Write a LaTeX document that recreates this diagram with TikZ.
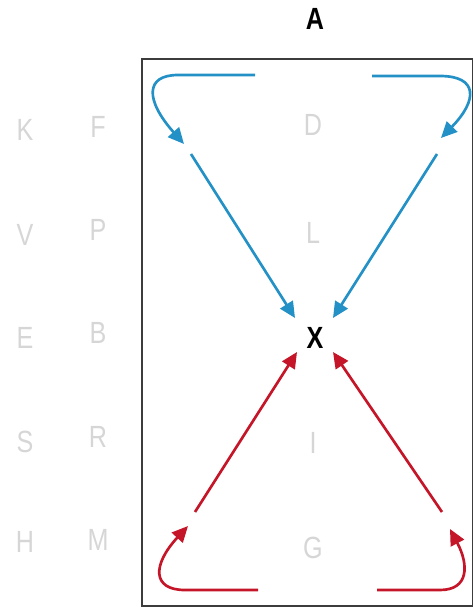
\documentclass[tikz,border=0pt]{standalone}
\usepackage{fontspec}
\setmainfont{Liberation Sans}
\newfontfamily\narrowsf[FakeStretch=0.82]{Liberation Sans}
\usepackage{xcolor}
\usepackage{tikz}
\usetikzlibrary{arrows.meta}
\usetikzlibrary{positioning}

\definecolor{flowblue}{RGB}{35,145,198}
\definecolor{flowred}{RGB}{196,22,40}
\definecolor{faintgray}{RGB}{214,214,214}

\tikzset{
  faint/.style={text=faintgray,inner sep=0pt,font=\narrowsf\fontsize{23pt}{23pt}\selectfont},
  strong/.style={text=black,inner sep=0pt,font=\narrowsf\bfseries\fontsize{23pt}{23pt}\selectfont},
  bluearr/.style={draw=flowblue,line width=2pt,-{Triangle[length=12pt,width=11pt]}},
  redarr/.style={draw=flowred,line width=2pt,-{Triangle[length=12pt,width=11pt]}}
}

\begin{document}
\begin{tikzpicture}[x=0.75pt,y=0.75pt,yscale=-1,xscale=1]
  \useasboundingbox (0,0) rectangle (474,611);

  %Shape: Rectangle [id:frame]
  \draw [draw={rgb, 255:red, 60; green, 60; blue, 60 }, line width=1.3pt] (142,59) rectangle (472.5,606);

  % Text Node
  \node [strong] (title) at (315,19) {A};
  % Text Node
  \node [strong] (centre) at (315,338) {X};

  % outer letters
  \node [faint] (lblK) at (25,130) {K};
  \node [faint] (lblV) at (25,235) {V};
  \node [faint] (lblE) at (25,338) {E};
  \node [faint] (lblS) at (25,442) {S};
  \node [faint] (lblH) at (25,542) {H};
  \node [faint] (lblF) at (98,127) {F};
  \node [faint] (lblP) at (98,230) {P};
  \node [faint] (lblB) at (98,333) {B};
  \node [faint] (lblR) at (98,437) {R};
  \node [faint] (lblM) at (98,540) {M};
  % inner letters
  \node [faint] (lblD) at (313,125) {D};
  \node [faint] (lblL) at (313,233) {L};
  \node [faint] (lblI) at (313,443) {I};
  \node [faint] (lblG) at (313,548) {G};

  % arrow ends
  \coordinate (tlA) at (255,75);
  \coordinate (tlB) at (184,144);
  \coordinate (tlC) at (191,154);
  \coordinate (tlD) at (295,318);
  \coordinate (trA) at (372,76);
  \coordinate (trB) at (441,138);
  \coordinate (trC) at (437,154);
  \coordinate (trD) at (333,318);
  \coordinate (blA) at (258,590);
  \coordinate (blB) at (188,526);
  \coordinate (blC) at (195,512);
  \coordinate (blD) at (297,352);
  \coordinate (brA) at (377,590);
  \coordinate (brB) at (450,529);
  \coordinate (brC) at (442,512);
  \coordinate (brD) at (333,352);

  %Curve Lines [id:blue]
  \draw [bluearr] (tlA) -- (178,75) .. controls (145,75) and (145,100) .. (tlB);
  \draw [bluearr] (tlC) -- (tlD);
  \draw [bluearr] (trA) -- (440,76) .. controls (478,76) and (478,100) .. (trB);
  \draw [bluearr] (trC) -- (trD);

  %Curve Lines [id:red]
  \draw [redarr] (blA) -- (185,590) .. controls (152,590) and (152,565) .. (blB);
  \draw [redarr] (blC) -- (blD);
  \draw [redarr] (brA) -- (440,590) .. controls (469,590) and (469,565) .. (brB);
  \draw [redarr] (brC) -- (brD);
\end{tikzpicture}
\end{document}
